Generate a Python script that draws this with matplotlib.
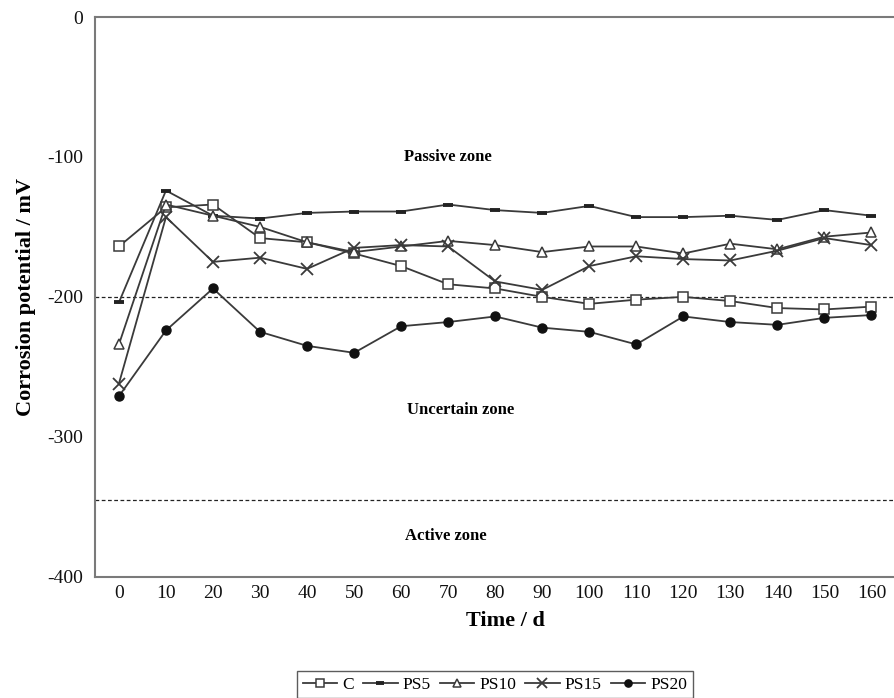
import matplotlib
matplotlib.use("Agg")
import matplotlib.pyplot as plt

days = [0, 10, 20, 30, 40, 50, 60, 70, 80, 90, 100, 110, 120, 130, 140, 150, 160]

c_vals = [-164, -136, -134, -158, -161, -169, -178, -191, -194, -200, -205, -202, -200, -203, -208, -209, -207]
ps5_vals = [-204, -124, -142, -144, -140, -139, -139, -134, -138, -140, -135, -143, -143, -142, -145, -138, -142]
ps10_vals = [-234, -134, -142, -150, -161, -168, -164, -160, -163, -168, -164, -164, -169, -162, -166, -157, -154]
ps15_vals = [-262, -143, -175, -172, -180, -165, -163, -164, -189, -195, -178, -171, -173, -174, -167, -158, -163]
ps20_vals = [-271, -224, -194, -225, -235, -240, -221, -218, -214, -222, -225, -234, -214, -218, -220, -215, -213]

passive_limit = -200
active_limit = -345

y_ticks = [0, -100, -200, -300, -400]

plt.rcParams['font.family'] = ['Liberation Serif', 'DejaVu Serif']

fig = plt.figure(figsize=(8.95, 6.98), dpi=100)
ax = fig.add_axes([0.1066, 0.1738, 0.8934, 0.8018])

line_color = '#3a3a3a'
common = dict(color=line_color, linewidth=1.3)

ax.plot(days, c_vals, marker='s', markersize=6.5, markerfacecolor='white',
        markeredgecolor=line_color, markeredgewidth=1.1, label='C', **common)
ax.plot(days, ps5_vals, marker='_', markersize=6.5, markeredgewidth=2.8,
        markeredgecolor='#222222', label='PS5', **common)
ax.plot(days, ps10_vals, marker='^', markersize=6.5, markerfacecolor='white',
        markeredgecolor=line_color, markeredgewidth=1.1, label='PS10', **common)
ax.plot(days, ps15_vals, marker='x', markersize=8.5, markeredgewidth=1.3,
        markeredgecolor=line_color, label='PS15', **common)
ax.plot(days, ps20_vals, marker='o', markersize=6.5, markerfacecolor='#111111',
        markeredgecolor='#111111', label='PS20', **common)

ax.axhline(passive_limit, color='#222222', linestyle=(0, (3, 2)), linewidth=0.9, zorder=0)
ax.axhline(active_limit, color='#222222', linestyle=(0, (3, 2)), linewidth=0.9, zorder=0)

zone_font = dict(fontsize=12, fontweight='bold', ha='center', va='center')
ax.text(70, -100, 'Passive zone', **zone_font)
ax.text(72.6, -281, 'Uncertain zone', **zone_font)
ax.text(69.5, -371, 'Active zone', **zone_font)

ax.set_xlim(-5, 165)
ax.set_ylim(-400, 0)
ax.set_xticks(days)
ax.set_xticklabels([str(d) for d in days])
ax.set_yticks(y_ticks)
ax.set_yticklabels([str(v) for v in y_ticks])
ax.tick_params(axis='both', length=0, labelsize=14, colors='#111111')
ax.tick_params(axis='x', pad=6)
ax.tick_params(axis='y', pad=9)

for side in ['left', 'bottom', 'top']:
    ax.spines[side].set_color('#7a7a7a')
    ax.spines[side].set_linewidth(1.5)
ax.spines['right'].set_visible(False)

ax.set_xlabel('Time / d', fontsize=16, fontweight='bold')
ax.xaxis.set_label_coords(0.513, -0.062)
ax.set_ylabel('Corrosion potential / mV', fontsize=16, fontweight='bold')
ax.yaxis.set_label_coords(-0.074, 0.5)

leg = fig.legend(loc='lower center', bbox_to_anchor=(0.553, 0.0), ncol=5, frameon=True,
                 fancybox=False, edgecolor='#333333', fontsize=12.5,
                 handlelength=2.0, columnspacing=0.5, handletextpad=0.3,
                 borderpad=0.3, markerscale=0.8, borderaxespad=0)
leg.get_frame().set_linewidth(1.0)

fig.savefig('out.png', dpi=100)
